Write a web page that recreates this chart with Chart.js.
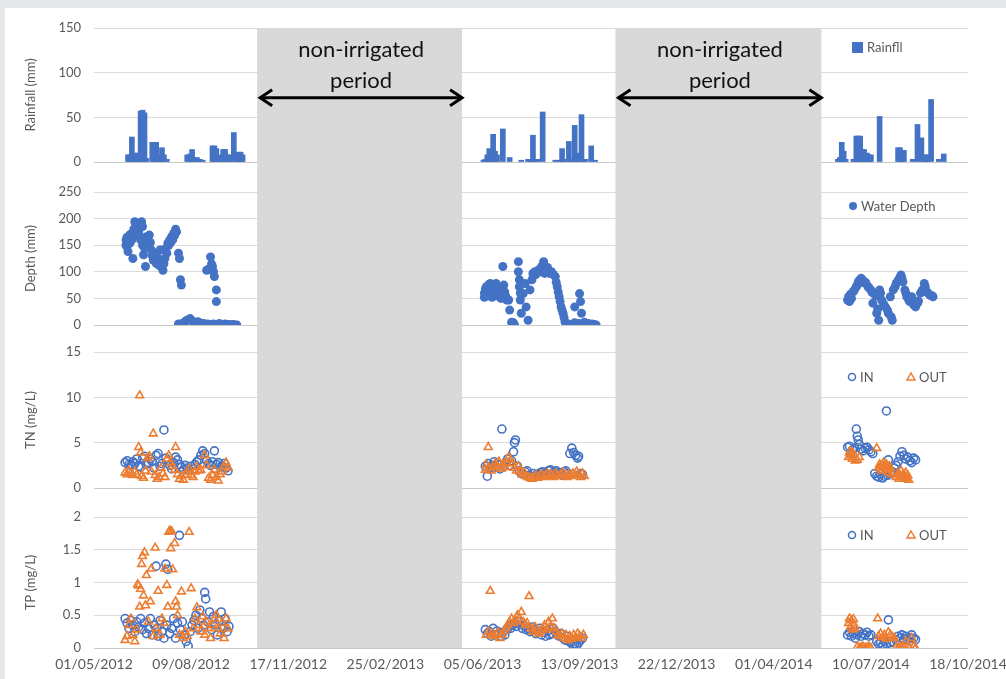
<!DOCTYPE html>
<html>
<head>
<meta charset="utf-8">
<script src="https://cdn.jsdelivr.net/npm/chart.js@4.4.1/dist/chart.umd.min.js"></script>
<style>
  html, body { margin: 0; padding: 0; }
  body { width: 1006px; height: 679px; background: #e5e8eb; position: relative; overflow: hidden; }
  #card { position: absolute; left: 5px; top: 8px; right: 0; bottom: 0; background: #fff; }
  canvas { position: absolute; left: 0; }
</style>
</head>
<body>
<div id="card"></div>
<canvas id="rainChart" width="1006" height="177" style="top:0px"></canvas>
<canvas id="depthChart" width="1006" height="161" style="top:177px"></canvas>
<canvas id="tnChart" width="1006" height="164" style="top:338px"></canvas>
<canvas id="tpChart" width="1006" height="177" style="top:502px"></canvas>
<script>
// 日付は 01/05/2012 からの経過日数
const xTickDays = [0, 100, 200, 300, 400, 500, 600, 700, 800, 900];
const tickLabels = ['01/05/2012', '09/08/2012', '17/11/2012', '25/02/2013', '05/06/2013',
  '13/09/2013', '22/12/2013', '01/04/2014', '10/07/2014', '18/10/2014'];

// 非灌漑期間 [開始, 終了]
const nonIrrigated = [[168, 379], [537, 749]];

// 降雨量 [日, mm]
const rainfall = [
  [35,8],[37,8],[39,28],[41,10],[43,9],[45,10],[48,57],[50,58],[52,55],[54,4],
  [60,22],[62,22],[64,22],[66,8],[68,8],[70,16],[72,8],[75,3],
  [96,8],[99,9],[101,14],[103,5],[106,5],[109,3],[112,2],
  [122,18],[124,18],[126,15],[129,8],[133,14],[135,14],[138,8],[140,8],[144,33],[147,10],[149,11],[151,11],[153,8],
  [401,2],[403,3],[405,8],[407,15],[409,12],[411,31],[413,12],[415,8],[421,37],[428,5],[440,2],[447,3],[450,3],
  [452,30],[454,3],[457,3],[462,56],[475,2],[478,2],[482,15],[484,3],[489,23],[491,3],[495,41],[497,10],
  [502,53],[504,3],[506,3],[512,18],[516,2],
  [766,3],[768,5],[770,22],[772,12],[774,3],[782,3],[785,29],[787,29],[789,29],[791,14],[793,14],[796,10],
  [798,8],[800,8],[809,51],[828,16],[830,16],[832,13],[834,13],[843,3],[848,42],[852,27],[856,8],[858,8],
  [862,70],[870,3],[875,9]
];

// 水深 [日, mm]
const waterDepth = [
  [33,160],[33,150],[34,147],[34,165],[35,138],[35,155],[36,158],[37,154],[37,170],[38,166],[39,160],[40,125],
  [40,172],[41,180],[42,194],[43,188],[44,190],[45,179],[46,175],[47,166],[48,160],[49,194],[50,185],[50,150],
  [51,132],[52,154],[52,145],[53,110],[54,166],[55,150],[56,147],[57,169],[58,155],[59,141],[60,130],[61,122],
  [62,135],[63,125],[64,116],[65,128],[66,120],[67,112],[68,141],[69,110],[70,120],[71,103],[72,115],[73,125],
  [74,144],[75,135],[76,154],[77,150],[78,160],[79,155],[80,166],[81,160],[82,172],[83,168],[84,180],[85,175],
  [87,135],[88,125],[89,85],[90,75],
  [87,2],[89,0],[91,3],[93,5],[95,8],[97,10],[99,12],[101,8],[103,5],[105,3],[107,6],[109,4],[111,2],[113,3],
  [115,1],[117,2],[119,0],[121,1],[123,2],[125,0],[127,1],[129,3],[131,0],[133,1],[135,2],[137,0],[139,1],
  [141,0],[143,1],[145,0],[147,0],
  [116,103],[118,105],[120,128],[121,115],[122,110],[123,100],[124,91],[126,66],[126,44],
  [402,60],[402,52],[403,68],[404,72],[404,58],[405,63],[406,75],[406,55],[407,70],[408,66],[408,78],[409,60],
  [410,72],[410,52],[411,65],[412,76],[412,58],[413,70],[414,63],[414,78],[415,55],[416,68],[417,72],[417,60],
  [418,65],[419,50],[420,58],[421,110],[422,75],[423,62],[424,54],[425,47],[427,47],[428,28],[430,5],[431,2],
  [432,4],[433,0],[437,119],[437,100],[438,85],[438,72],[439,60],[439,47],[440,22],[442,59],[444,78],[445,34],
  [447,9],[449,66],[451,85],[452,97],[454,100],[455,95],[456,100],[458,104],[460,100],[461,110],[463,119],
  [464,97],[466,103],[467,108],[469,97],[471,100],[473,95],[475,91],[476,80],[477,72],[478,62],[479,53],
  [480,44],[481,34],[482,28],[483,22],[484,14],[485,6],[487,3],[489,1],[491,0],[493,2],[495,34],[495,4],
  [497,1],[499,3],[500,59],[501,44],[502,22],[503,2],[505,5],[507,1],[509,3],[511,0],[513,2],[515,1],[517,0],
  [776,47],[777,53],[778,44],[779,58],[780,50],[782,63],[783,66],[785,72],[786,75],[787,81],[788,84],[790,88],
  [791,85],[792,80],[794,81],[795,78],[797,72],[798,70],[800,66],[801,62],[802,41],[803,59],[805,55],[806,22],
  [807,30],[808,9],[809,66],[810,60],[811,47],[813,40],[815,34],[817,28],[818,22],[820,53],[821,15],[822,9],
  [823,66],[825,72],[826,78],[828,84],[830,90],[831,94],[832,88],[833,81],[835,66],[836,60],[837,53],[839,47],
  [840,44],[842,53],[844,38],[846,34],[848,41],[849,45],[851,60],[853,66],[855,78],[856,72],[857,63],[859,60],
  [861,56],[863,55],[864,53]
];

// TN 流入 / 流出 [日, mg/L]
const tnIn = [
  [32,2.8],[34,3.0],[36,2.6],[38,2.5],[40,2.9],[42,2.7],[44,3.2],[46,2.4],[48,2.3],[50,3.3],[52,3.5],[54,2.6],
  [56,2.8],[58,3.2],[60,2.9],[62,2.2],[64,3.6],[66,3.8],[68,2.4],[70,2.7],[72,6.4],[74,3.3],[76,3.0],[78,2.5],
  [80,2.1],[82,2.8],[84,3.4],[86,3.1],[88,2.6],[90,2.3],[92,2.0],[94,2.5],[96,2.2],[98,2.0],[100,2.4],[102,2.1],
  [104,2.6],[106,2.9],[108,3.1],[110,3.6],[112,4.1],[114,3.8],[116,3.0],[118,2.7],[120,2.5],[122,2.9],[124,4.1],
  [126,2.6],[128,2.8],[130,2.3],[132,2.4],[134,2.7],[136,2.2],[138,1.9],
  [403,2.4],[405,1.3],[406,2.7],[408,2.2],[410,2.5],[412,2.9],[414,2.3],[416,2.6],[418,2.1],[420,6.5],[422,2.4],
  [424,2.8],[426,3.2],[428,2.5],[430,3.0],[432,4.0],[433,5.0],[434,5.3],[436,2.4],[438,1.9],[440,1.6],[442,1.5],
  [444,1.8],[446,1.9],[448,1.4],[450,1.3],[452,1.6],[454,1.2],[456,1.5],[458,1.4],[460,1.7],[462,1.8],[464,1.6],
  [466,1.5],[468,1.9],[470,2.0],[472,1.6],[474,1.8],[476,1.9],[478,1.5],[480,1.7],[482,1.4],[484,1.8],[486,1.9],
  [488,1.6],[490,3.8],[492,4.4],[494,3.9],[496,3.6],[498,3.3],[499,3.5],[501,1.6],[503,1.5],
  [776,4.5],[778,4.6],[779,3.8],[781,4.2],[783,4.4],[785,6.5],[786,5.7],[787,5.3],[788,4.8],[790,4.3],[792,4.1],
  [794,4.4],[796,4.5],[798,4.2],[800,4.0],[802,3.8],[804,1.6],[806,1.3],[808,1.2],[810,1.5],[812,1.1],[814,1.3],
  [816,8.5],[817,1.4],[818,3.1],[820,1.6],[822,1.8],[824,2.2],[826,2.5],[828,2.9],[830,3.5],[832,4.0],[834,3.6],
  [836,3.2],[838,3.4],[840,3.0],[842,2.8],[844,3.3],[846,3.1]
];
const tnOut = [
  [32,1.7],[34,1.5],[36,1.9],[38,1.6],[40,1.4],[42,1.8],[44,1.5],[46,4.5],[47,10.2],[48,3.9],[49,1.3],[51,1.1],
  [53,1.9],[55,3.3],[57,3.5],[59,1.8],[61,6.0],[63,1.4],[65,1.0],[67,1.2],[69,2.2],[71,1.6],[73,1.2],[75,3.2],
  [77,3.6],[79,2.8],[81,2.4],[83,2.0],[84,4.5],[86,1.5],[88,1.0],[90,1.3],[92,0.9],[94,1.5],[96,1.8],[98,2.1],
  [100,1.4],[102,1.2],[104,1.8],[106,2.3],[108,1.9],[110,2.0],[114,3.6],[116,2.5],[118,1.1],[120,0.9],[122,1.4],
  [124,2.0],[126,1.2],[128,0.8],[130,1.5],[132,1.8],[134,2.4],[136,2.8],[138,2.2],
  [403,2.0],[404,2.6],[406,4.5],[407,2.2],[409,1.9],[411,2.3],[413,2.7],[415,2.4],[417,2.9],[419,2.1],[421,2.6],
  [423,2.3],[425,2.8],[427,3.4],[429,3.1],[431,2.7],[433,2.2],[435,1.9],[437,2.4],[439,1.8],[441,1.5],[443,1.7],
  [445,1.3],[447,1.2],[449,1.1],[451,1.0],[453,1.2],[455,1.4],[457,1.1],[459,1.3],[461,1.5],[463,1.2],[465,1.4],
  [467,1.6],[469,1.3],[471,1.5],[473,1.2],[475,1.6],[477,1.4],[479,1.3],[481,1.5],[483,1.7],[485,1.4],[487,1.2],
  [489,1.5],[491,1.3],[493,1.6],[495,1.4],[497,1.8],[499,1.5],[501,1.2],[503,1.6],[505,1.3],
  [777,3.4],[778,3.9],[779,4.1],[780,3.6],[781,3.2],[782,3.8],[784,3.0],[786,3.1],[788,3.4],[806,4.4],[808,2.2],
  [809,2.6],[810,2.4],[811,1.9],[812,2.5],[813,2.8],[814,2.3],[815,2.0],[816,2.6],[817,2.1],[818,1.7],[819,2.4],
  [820,2.2],[822,1.5],[826,1.2],[828,1.6],[829,1.0],[830,1.4],[831,1.9],[832,1.3],[833,1.0],[834,1.5],[835,1.2],
  [836,1.7],[837,1.1],[838,1.4],[839,0.9]
];

// TP 流入 / 流出 [日, mg/L]
const tpIn = [
  [32,0.45],[34,0.38],[36,0.3],[38,0.42],[40,0.35],[42,0.25],[44,0.4],[46,0.32],[48,0.45],[50,0.28],[52,0.38],
  [54,0.22],[56,0.3],[58,0.45],[60,0.2],[62,0.35],[64,1.25],[65,0.3],[66,0.18],[68,0.42],[70,0.25],[72,0.15],
  [74,1.28],[75,0.35],[76,1.2],[78,0.22],[80,0.3],[82,0.45],[84,0.15],[86,0.38],[88,1.72],[89,0.28],[91,0.4],
  [93,0.2],[95,0.1],[97,0.03],[99,0.25],[101,0.35],[103,0.42],[105,0.5],[107,0.3],[109,0.58],[111,0.45],
  [113,0.35],[114,0.85],[115,0.75],[117,0.4],[119,0.55],[121,0.28],[123,0.48],[125,0.35],[127,0.2],[129,0.42],
  [131,0.55],[133,0.3],[135,0.45],[137,0.25],[139,0.33],
  [403,0.28],[405,0.22],[407,0.25],[409,0.18],[411,0.3],[413,0.2],[415,0.26],[417,0.22],[419,0.18],[421,0.24],
  [423,0.2],[425,0.28],[427,0.32],[429,0.3],[431,0.35],[433,0.38],[435,0.33],[437,0.4],[439,0.36],[441,0.3],
  [443,0.34],[445,0.28],[447,0.3],[449,0.25],[451,0.32],[453,0.28],[455,0.22],[457,0.26],[459,0.3],[461,0.2],
  [463,0.24],[465,0.18],[467,0.26],[469,0.2],[471,0.22],[473,0.3],[475,0.25],[477,0.2],[479,0.18],[481,0.22],
  [483,0.15],[485,0.12],[487,0.18],[489,0.1],[491,0.08],[493,0.05],[495,0.06],[497,0.04],[499,0.08],[501,0.12],
  [503,0.15],
  [776,0.2],[778,0.24],[780,0.18],[782,0.22],[784,0.15],[786,0.2],[788,0.25],[790,0.18],[792,0.22],[794,0.2],
  [796,0.24],[798,0.18],[800,0.2],[806,0.1],[808,0.06],[810,0.08],[812,0.04],[814,0.1],[816,0.06],[818,0.43],
  [820,0.08],[822,0.1],[826,0.12],[828,0.18],[830,0.15],[832,0.2],[834,0.14],[836,0.18],[838,0.12],[840,0.16],
  [842,0.2],[844,0.15],[846,0.13]
];
const tpOut = [
  [32,0.12],[34,0.18],[36,0.35],[38,0.45],[40,0.2],[42,0.1],[44,0.28],[45,0.97],[46,0.95],[47,0.63],[48,0.9],
  [49,1.28],[50,1.4],[51,0.8],[52,1.46],[53,0.65],[54,1.11],[56,0.4],[58,0.71],[59,1.21],[61,0.18],[63,1.53],
  [64,0.3],[66,0.87],[68,0.2],[70,0.45],[72,0.38],[73,1.21],[75,0.96],[76,0.63],[77,1.77],[78,1.79],[79,1.52],
  [80,1.78],[81,1.2],[83,1.6],[84,0.71],[85,0.63],[86,0.5],[88,0.2],[90,0.86],[92,0.15],[94,0.25],[96,0.18],
  [98,1.77],[100,0.91],[102,0.3],[104,0.45],[106,0.62],[108,0.35],[110,0.25],[112,0.48],[114,0.2],[116,0.4],
  [118,0.3],[120,0.15],[122,0.35],[124,0.45],[126,0.5],[128,0.3],[130,0.22],[132,0.38],[134,0.15],[136,0.45],
  [138,0.3],
  [404,0.2],[406,0.25],[408,0.87],[410,0.22],[412,0.18],[414,0.2],[416,0.24],[418,0.15],[420,0.2],[422,0.26],
  [424,0.3],[426,0.35],[428,0.4],[430,0.45],[432,0.38],[434,0.42],[436,0.5],[438,0.45],[440,0.55],[442,0.4],
  [444,0.35],[446,0.38],[448,0.79],[450,0.3],[452,0.25],[454,0.32],[456,0.28],[458,0.22],[460,0.25],[462,0.3],
  [464,0.35],[466,0.28],[468,0.4],[470,0.32],[472,0.45],[474,0.3],[476,0.25],[478,0.2],[480,0.18],[482,0.22],
  [484,0.15],[486,0.2],[488,0.12],[490,0.18],[492,0.14],[494,0.2],[496,0.16],[498,0.22],[500,0.18],[502,0.15],
  [504,0.2],
  [777,0.38],[778,0.45],[779,0.32],[780,0.42],[781,0.28],[782,0.44],[783,0.35],[784,0.3],[786,0.02],[788,0.0],
  [790,0.01],[792,0.02],[794,0.0],[796,0.01],[798,0.02],[800,0.0],[807,0.45],[808,0.18],[810,0.22],[812,0.16],
  [814,0.2],[816,0.14],[818,0.24],[820,0.2],[822,0.17],[824,0.15],[826,0.01],[828,0.0],[830,0.02],[832,0.0],
  [834,0.01],[836,0.1],[838,0.03],[840,0.0],[842,0.15],[844,0.02],[846,0.0]
];

const BLUE = '#4472C4';
const ORANGE = '#ED7D31';
const TEXT = '#595959';
const BAND = '#d9d9d9';

Chart.defaults.font.family = 'Lato, "Open Sans", sans-serif';
Chart.defaults.color = TEXT;

const toXY = (arr) => arr.map(([d, v]) => ({ x: d, y: v }));

// 非灌漑期間の灰色の帯
const bandPlugin = {
  id: 'bands',
  beforeDatasetsDraw(chart, args, opts) {
    const { ctx, chartArea, scales: { x } } = chart;
    const top = opts.fromTop ? 0 : chartArea.top;
    const bottom = opts.toBottom ? chart.height : chartArea.bottom;
    ctx.save();
    ctx.fillStyle = BAND;
    nonIrrigated.forEach(([a, b]) => {
      const x1 = x.getPixelForValue(a);
      const x2 = x.getPixelForValue(b);
      ctx.fillRect(x1, top, x2 - x1, bottom - top);
    });
    ctx.restore();
  },
};

// 凡例（プロット内右上）
const miniLegend = {
  id: 'miniLegend',
  afterDraw(chart, args, opts) {
    if (!opts.items) return;
    const { ctx } = chart;
    ctx.save();
    ctx.font = '13px Lato, sans-serif';
    ctx.textBaseline = 'middle';
    opts.items.forEach((it) => {
      const y = opts.y;
      ctx.fillStyle = it.color;
      ctx.strokeStyle = it.color;
      ctx.lineWidth = 1.5;
      if (it.kind === 'square') {
        ctx.fillRect(it.x - 5, y - 5, 11, 11);
      } else if (it.kind === 'dot') {
        ctx.beginPath();
        ctx.arc(it.x, y, 4, 0, Math.PI * 2);
        ctx.fill();
      } else if (it.kind === 'ring') {
        ctx.beginPath();
        ctx.arc(it.x, y, 3.5, 0, Math.PI * 2);
        ctx.stroke();
      } else if (it.kind === 'tri') {
        ctx.beginPath();
        ctx.moveTo(it.x, y - 4);
        ctx.lineTo(it.x + 4, y + 3);
        ctx.lineTo(it.x - 4, y + 3);
        ctx.closePath();
        ctx.stroke();
      }
      ctx.fillStyle = TEXT;
      ctx.fillText(it.label, it.x + (it.kind === 'square' ? 10 : 8), y + 1);
    });
    ctx.restore();
  },
};

// 「non-irrigated period」と矢印
const periodNote = {
  id: 'periodNote',
  afterDraw(chart, args, opts) {
    if (!opts.show) return;
    const { ctx, scales: { x, y } } = chart;
    ctx.save();
    ctx.fillStyle = '#111';
    ctx.strokeStyle = '#000';
    ctx.font = '22px Lato, sans-serif';
    ctx.textAlign = 'center';
    ctx.textBaseline = 'middle';
    nonIrrigated.forEach(([a, b]) => {
      const x1 = x.getPixelForValue(a) + 2;
      const x2 = x.getPixelForValue(b) + 1;
      const cx = (x1 + x2) / 2;
      ctx.fillText('non-irrigated', cx, y.getPixelForValue(125));
      ctx.fillText('period', cx, y.getPixelForValue(91));
      const ay = y.getPixelForValue(72);
      ctx.lineWidth = 3;
      ctx.beginPath();
      ctx.moveTo(x1 + 1, ay);
      ctx.lineTo(x2 - 1, ay);
      ctx.stroke();
      ctx.beginPath();
      ctx.moveTo(x1 + 13, ay - 8);
      ctx.lineTo(x1 + 1, ay);
      ctx.lineTo(x1 + 13, ay + 8);
      ctx.moveTo(x2 - 13, ay - 8);
      ctx.lineTo(x2 - 1, ay);
      ctx.lineTo(x2 - 13, ay + 8);
      ctx.stroke();
    });
    ctx.restore();
  },
};

function xScale(show) {
  return {
    type: 'linear',
    min: 0,
    max: 900,
    offset: false,
    display: show,
    grid: { display: false, drawTicks: false },
    border: { display: false },
    afterBuildTicks: (s) => { s.ticks = xTickDays.map((v) => ({ value: v })); },
    afterFit: (s) => {
      s.paddingLeft = 0;
      s.paddingRight = 0;
      if (show) s.height = 25;
    },
    ticks: {
      padding: 8,
      maxRotation: 0,
      autoSkip: false,
      font: { size: 14 },
      color: TEXT,
      callback: (v) => {
        const i = xTickDays.indexOf(v);
        return i >= 0 ? tickLabels[i] : '';
      },
    },
  };
}

function yScale(title, max, step) {
  return {
    min: 0,
    max: max,
    ticks: {
      stepSize: step,
      padding: 13,
      font: { size: 13 },
      color: TEXT,
      callback: (v) => String(v),
    },
    grid: {
      drawTicks: false,
      color: (c) => (c.tick && c.tick.value === 0 ? '#c8c8c8' : '#dcdcdc'),
    },
    border: { display: false },
    title: {
      display: true,
      text: title,
      color: TEXT,
      font: { size: 13 },
      padding: { top: 23, bottom: 0 },
    },
    afterFit: (s) => {
      s.width = 94;
      s.paddingTop = 0;
      s.paddingBottom = 0;
    },
  };
}

function baseOptions(yopt, showX, pad, bands, legend, note) {
  return {
    responsive: false,
    animation: false,
    devicePixelRatio: 1,
    layout: { padding: pad },
    scales: { x: xScale(showX), y: yopt },
    plugins: {
      legend: { display: false },
      tooltip: { enabled: false },
      bands: bands,
      miniLegend: legend,
      periodNote: { show: note },
    },
  };
}

const plugins = [bandPlugin, miniLegend, periodNote];

// 降雨量
new Chart(document.getElementById('rainChart'), {
  type: 'bar',
  data: {
    datasets: [{
      data: toXY(rainfall),
      backgroundColor: BLUE,
      barThickness: 5,
    }],
  },
  options: baseOptions(
    yScale('Rainfall (mm)', 150, 50), false,
    { top: 28, bottom: 15, left: 0, right: 38 },
    { fromTop: false, toBottom: true },
    { y: 47, items: [{ kind: 'square', x: 857, color: BLUE, label: 'Rainfll' }] },
    true
  ),
  plugins: plugins,
});

// 水深
new Chart(document.getElementById('depthChart'), {
  type: 'scatter',
  data: {
    datasets: [{
      data: toXY(waterDepth),
      backgroundColor: BLUE,
      borderWidth: 0,
      pointRadius: 4.5,
    }],
  },
  options: baseOptions(
    yScale('Depth (mm)', 250, 50), false,
    { top: 15, bottom: 13, left: 0, right: 38 },
    { fromTop: true, toBottom: true },
    { y: 29, items: [{ kind: 'dot', x: 853, color: BLUE, label: 'Water Depth' }] },
    false
  ),
  plugins: plugins,
});

function qualitySets(inData, outData) {
  return [
    {
      label: 'OUT',
      data: toXY(outData),
      pointStyle: 'triangle',
      pointRadius: 4.5,
      borderColor: ORANGE,
      backgroundColor: 'rgba(0,0,0,0)',
      borderWidth: 1.6,
    },
    {
      label: 'IN',
      data: toXY(inData),
      pointStyle: 'circle',
      pointRadius: 4,
      borderColor: BLUE,
      backgroundColor: 'rgba(0,0,0,0)',
      borderWidth: 1.6,
    },
  ];
}

const qualityLegend = (y) => ({
  y: y,
  items: [
    { kind: 'ring', x: 852, color: BLUE, label: 'IN' },
    { kind: 'tri', x: 911, color: ORANGE, label: 'OUT' },
  ],
});

// TN
new Chart(document.getElementById('tnChart'), {
  type: 'scatter',
  data: { datasets: qualitySets(tnIn, tnOut) },
  options: baseOptions(
    yScale('TN (mg/L)', 15, 5), false,
    { top: 14, bottom: 14, left: 0, right: 38 },
    { fromTop: true, toBottom: true },
    qualityLegend(39),
    false
  ),
  plugins: plugins,
});

// TP
new Chart(document.getElementById('tpChart'), {
  type: 'scatter',
  data: { datasets: qualitySets(tpIn, tpOut) },
  options: baseOptions(
    yScale('TP (mg/L)', 2, 0.5), true,
    { top: 15, bottom: 6, left: 0, right: 38 },
    { fromTop: true, toBottom: false },
    qualityLegend(33),
    false
  ),
  plugins: plugins,
});
</script>
</body>
</html>
